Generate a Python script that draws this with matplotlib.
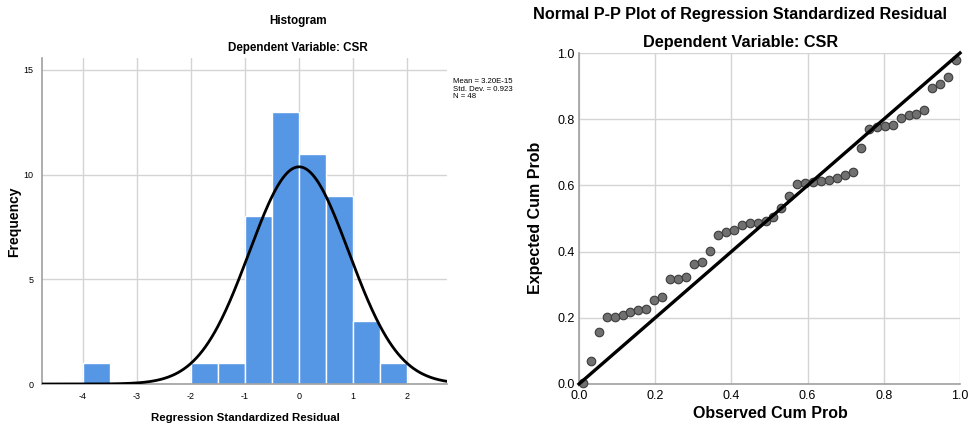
import matplotlib
matplotlib.use('Agg')
import matplotlib.pyplot as plt
import numpy as np

# histogram data: bin edges and counts
bin_left = [-4.0, -2.0, -1.5, -1.0, -0.5, 0.0, 0.5, 1.0, 1.5]
counts = [1, 1, 1, 8, 13, 11, 9, 3, 1]
bin_width = 0.5
mean = 3.20e-15
std = 0.923
n = 48

# P-P plot data
obs_cum = [0.010, 0.031, 0.052, 0.073, 0.094, 0.115, 0.135, 0.156,
           0.177, 0.198, 0.219, 0.240, 0.260, 0.281, 0.302, 0.323,
           0.344, 0.365, 0.385, 0.406, 0.427, 0.448, 0.469, 0.490,
           0.510, 0.531, 0.552, 0.573, 0.594, 0.615, 0.635, 0.656,
           0.677, 0.698, 0.719, 0.740, 0.760, 0.781, 0.802, 0.823,
           0.844, 0.865, 0.885, 0.906, 0.927, 0.948, 0.969, 0.990]
exp_cum = [0.004, 0.068, 0.158, 0.203, 0.203, 0.209, 0.218, 0.223,
           0.226, 0.254, 0.264, 0.317, 0.317, 0.322, 0.364, 0.369,
           0.401, 0.450, 0.458, 0.465, 0.480, 0.486, 0.486, 0.491,
           0.506, 0.531, 0.567, 0.604, 0.607, 0.609, 0.612, 0.617,
           0.621, 0.630, 0.640, 0.714, 0.770, 0.775, 0.779, 0.782,
           0.804, 0.812, 0.815, 0.829, 0.895, 0.905, 0.929, 0.978]

plt.rcParams['font.family'] = ['Liberation Sans', 'DejaVu Sans']
plt.rcParams['axes.unicode_minus'] = False

fig = plt.figure(figsize=(9.71, 4.26), dpi=100)
W, H = 971.0, 426.0

def style(ax):
    for s in ['top', 'right']:
        ax.spines[s].set_visible(False)
    for s in ['left', 'bottom']:
        ax.spines[s].set_color('#a0a0a0')
        ax.spines[s].set_linewidth(1.2)
    ax.grid(True, color='#d4d4d4', linewidth=1.0)
    ax.set_axisbelow(True)
    ax.tick_params(length=0, colors='black')

# --- histogram ---
ax1 = fig.add_axes([42 / W, 1 - 384 / H, 405 / W, 326 / H])
style(ax1)
ax1.bar(bin_left, counts, width=bin_width, align='edge', color='#5596e5',
        edgecolor='white', linewidth=1.0, zorder=2)
xs = np.linspace(-4.76, 2.74, 400)
pdf = n * bin_width / (std * np.sqrt(2 * np.pi)) * np.exp(-0.5 * ((xs - mean) / std) ** 2)
ax1.plot(xs, pdf, color='black', lw=2.0, zorder=3)
ax1.set_xlim(-4.76, 2.74)
ax1.set_ylim(0, 15.57)
ax1.set_xticks([-4, -3, -2, -1, 0, 1, 2])
ax1.set_yticks([0, 5, 10, 15])
ax1.tick_params(labelsize=6.5, pad=6)

fig.text(14 / W, 1 - 222 / H, 'Frequency', rotation=90, ha='center', va='center',
         fontsize=10, fontweight='bold')
fig.text(245 / W, 1 - 418 / H, 'Regression Standardized Residual', ha='center', va='center',
         fontsize=8.2, fontweight='bold')
fig.text(298 / W, 1 - 21 / H, 'Histogram', ha='center', va='center',
         fontsize=8.4, fontweight='bold')
fig.text(298 / W, 1 - 48 / H, 'Dependent Variable: CSR', ha='center', va='center',
         fontsize=8.4, fontweight='bold')
fig.text(453 / W, 1 - 78 / H, 'Mean = 3.20E-15\nStd. Dev. = 0.923\nN = 48',
         ha='left', va='top', fontsize=5.6, linespacing=1.15)

# --- P-P plot ---
ax2 = fig.add_axes([579 / W, 1 - 384 / H, 381 / W, 331 / H])
style(ax2)
ax2.scatter(obs_cum, exp_cum, s=38, color='#707070', edgecolor='#3c3c3c',
            linewidth=0.8, zorder=3, clip_on=False)
ax2.plot([0, 1], [0, 1], color='black', lw=2.4, zorder=4, clip_on=False)
ax2.set_xlim(0, 1)
ax2.set_ylim(0, 1)
ticks = [0, 0.2, 0.4, 0.6, 0.8, 1.0]
tick_labels = ['0.0', '0.2', '0.4', '0.6', '0.8', '1.0']
ax2.set_xticks(ticks)
ax2.set_yticks(ticks)
ax2.set_xticklabels(tick_labels)
ax2.set_yticklabels(tick_labels)
ax2.tick_params(labelsize=9, pad=3)
ax2.tick_params(axis='x', pad=4)

fig.text(770 / W, 1 - 414 / H, 'Observed Cum Prob', ha='center', va='center',
         fontsize=11.5, fontweight='bold')
fig.text(535 / W, 1 - 218 / H, 'Expected Cum Prob', rotation=90, ha='center', va='center',
         fontsize=11.5, fontweight='bold')
fig.text(740 / W, 1 - 15 / H, 'Normal P-P Plot of Regression Standardized Residual',
         ha='center', va='center', fontsize=11.7, fontweight='bold')
fig.text(741 / W, 1 - 42 / H, 'Dependent Variable: CSR', ha='center', va='center',
         fontsize=11.7, fontweight='bold')

fig.savefig('out.png', dpi=100)
